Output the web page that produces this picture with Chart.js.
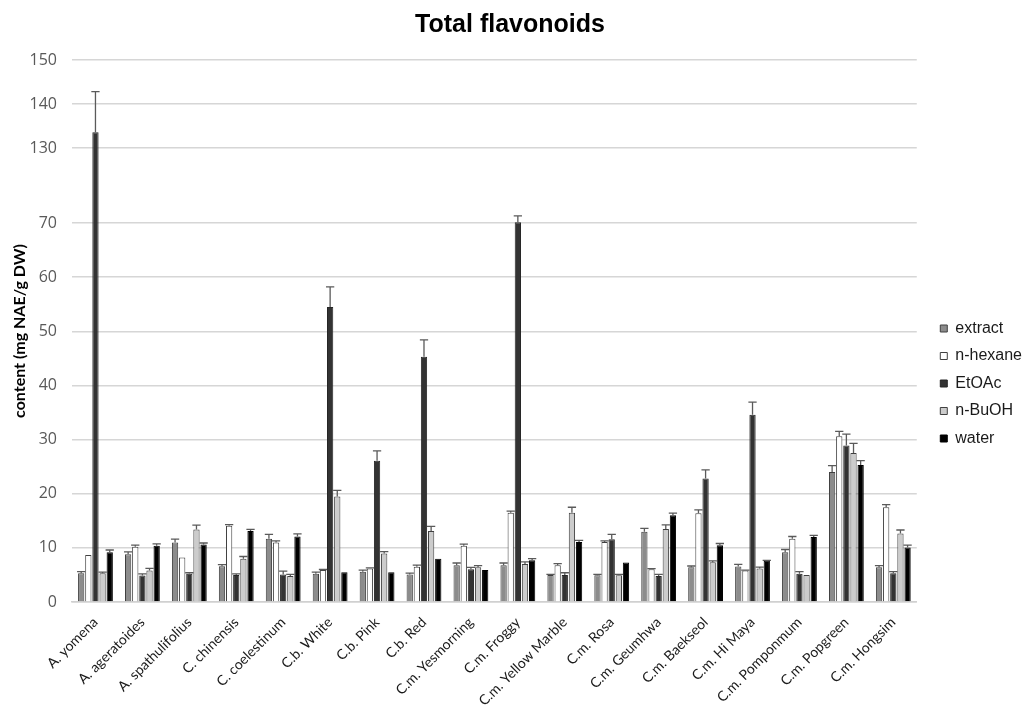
<!DOCTYPE html>
<html><head><meta charset="utf-8">
<script src="https://cdn.jsdelivr.net/npm/chart.js@4.4.1/dist/chart.umd.min.js"></script>
<style>html,body{margin:0;padding:0;background:#fff;overflow:hidden}</style>
</head><body>
<canvas id="c" width="1024" height="713"></canvas>
<script>
// ---------- data ----------
const categories = ["A. yomena","A. ageratoides","A. spathulifolius","C. chinensis","C. coelestinum",
  "C.b. White","C.b. Pink","C.b. Red","C.m. Yesmorning","C.m. Froggy","C.m. Yellow Marble","C.m. Rosa",
  "C.m. Geumhwa","C.m. Baekseol","C.m. Hi Maya","C.m. Pomponmum","C.m. Popgreen","C.m. Hongsim"];
const seriesNames = ["extract","n-hexane","EtOAc","n-BuOH","water"];
const extractVals = [5.3,8.8,11.0,6.6,11.7,5.2,5.6,5.1,6.8,6.8,5.0,4.95,12.96,6.4,6.55,9.2,24.0,6.4];
const extractErr  = [0.3,0.45,0.6,0.3,0.8,0.3,0.3,0.25,0.4,0.4,0.1,0.15,0.64,0.25,0.4,0.5,1.2,0.3];
const hexaneVals  = [8.7,10.2,8.2,14.1,11.0,5.9,6.2,6.5,10.4,16.5,6.8,11.1,6.05,16.4,5.8,11.7,30.6,17.5];
const hexaneErr   = [0,0.3,0,0.2,0.3,0.1,0.1,0.3,0.3,0.3,0.3,0.2,0.1,0.6,0.1,0.4,0.9,0.5];
const etoacVals   = [133.6,4.9,5.2,5.0,5.1,54.5,26.1,45.3,6.05,70.6,5.0,11.6,4.8,22.8,34.6,5.2,28.9,5.3];
const etoacErr    = [9.2,0.3,0.2,0.2,0.6,3.7,1.8,3.1,0.35,5.1,0.4,0.9,0.3,1.6,2.3,0.4,2.1,0.3];
const butanolVals = [5.3,5.8,13.4,8.0,4.8,19.5,8.95,13.1,6.4,7.0,16.5,4.95,13.5,7.35,6.2,5.0,27.5,12.65];
const butanolErr  = [0.2,0.4,0.8,0.4,0.3,1.1,0.35,0.85,0.3,0.4,1.0,0.15,0.75,0.25,0.25,0,1.8,0.65];
const waterVals   = [9.2,10.4,10.6,13.1,12.1,5.5,5.5,8.0,5.9,7.7,11.1,7.3,16.0,10.5,7.6,12.0,25.3,10.05];
const waterErr    = [0.4,0.35,0.3,0.3,0.5,0,0,0,0,0.3,0.3,0,0.4,0.3,0.1,0.3,0.8,0.45];
const yTickValues = [0,10,20,30,40,50,60,70,130,140,150];
const yTickLabels = ["0","10","20","30","40","50","60","70","130","140","150"];

// ---------- broken axis mapping (0-70 linear, gap, 130-150 compressed) ----------
const BREAK_LOW = 70, BREAK_HIGH = 130, AXIS_MAX = 150;
const GAP_UNITS = 13.85, UPPER_RATIO = 0.8127;
function toAxis(v){
  if (v <= BREAK_LOW) return v;
  if (v >= BREAK_HIGH) return BREAK_LOW + GAP_UNITS + (v - BREAK_HIGH) * UPPER_RATIO;
  return BREAK_LOW + (v - BREAK_LOW) / (BREAK_HIGH - BREAK_LOW) * GAP_UNITS;
}

const valueSets = [extractVals, hexaneVals, etoacVals, butanolVals, waterVals];
const errSets = [extractErr, hexaneErr, etoacErr, butanolErr, waterErr];
const fills = ["#8c8c8c","#ffffff","#333333","#cccccc","#000000"];
const borders = ["#404040","#404040","#262626","#404040","#000000"];

const datasets = seriesNames.map((name, i) => ({
  label: name,
  data: valueSets[i].map(toAxis),
  backgroundColor: fills[i],
  borderColor: borders[i],
  borderWidth: 1,
  categoryPercentage: 0.76,
  barPercentage: 0.88
}));

const errorBars = {
  id: 'errorBars',
  afterDatasetsDraw(chart){
    const ctx = chart.ctx, y = chart.scales.y;
    ctx.save();
    ctx.strokeStyle = '#5a5a5a';
    ctx.lineWidth = 1.3;
    chart.data.datasets.forEach((ds, i) => {
      const meta = chart.getDatasetMeta(i);
      meta.data.forEach((bar, j) => {
        const e = errSets[i][j];
        if (!e) return;
        const top = y.getPixelForValue(toAxis(valueSets[i][j] + e));
        const half = bar.width / 2 + 1;
        ctx.beginPath();
        ctx.moveTo(bar.x, bar.y);
        ctx.lineTo(bar.x, top);
        ctx.moveTo(bar.x - half, top);
        ctx.lineTo(bar.x + half, top);
        ctx.stroke();
      });
    });
    ctx.restore();
  }
};

const legendShift = {
  id: 'legendShift',
  afterLayout(chart){
    const lg = chart.legend;
    if (!lg) return;
    lg.left += 12; lg.right += 12;
    lg.top += 27; lg.bottom += 27;
  }
};

new Chart(document.getElementById('c'), {
  type: 'bar',
  data: { labels: categories, datasets },
  plugins: [errorBars, legendShift],
  options: {
    responsive: false,
    animation: false,
    devicePixelRatio: 1,
    layout: { padding: { left: 0, right: 4, top: 0, bottom: 0 } },
    plugins: {
      title: {
        display: true,
        text: 'Total flavonoids',
        color: '#000',
        font: { family: 'Liberation Sans', size: 25, weight: 'bold' },
        padding: { top: 10, bottom: 20 }
      },
      legend: {
        position: 'right',
        labels: {
          color: '#1a1a1a',
          font: { family: 'Liberation Sans', size: 16 },
          boxWidth: 7, boxHeight: 7,
          padding: 11.5
        }
      },
      tooltip: { enabled: false }
    },
    scales: {
      x: {
        grid: { display: false },
        border: { color: '#d0d0d0', width: 1.5 },
        ticks: {
          autoSkip: false, minRotation: 45, maxRotation: 45,
          color: '#1a1a1a', padding: 4,
          font: { family: 'Lato', size: 14 }
        },
        afterFit(scale){ scale.height = 111; }
      },
      y: {
        min: 0,
        max: toAxis(AXIS_MAX),
        grid: { color: '#d6d6d6', lineWidth: 1.5, drawTicks: false },
        border: { display: false },
        afterBuildTicks(scale){ scale.ticks = yTickValues.map(v => ({ value: toAxis(v) })); },
        ticks: {
          color: '#595959', padding: 15,
          font: { family: 'Open Sans', size: 16 },
          callback: (val, idx) => yTickLabels[idx]
        },
        title: {
          display: true,
          text: 'content (mg NAE/g DW)',
          color: '#000',
          font: { family: 'Lato', size: 16, weight: 'bold' },
          padding: { top: 10, bottom: 0 }
        },
        afterFit(scale){ scale.width = 72; }
      }
    }
  }
});
</script>
</body></html>
